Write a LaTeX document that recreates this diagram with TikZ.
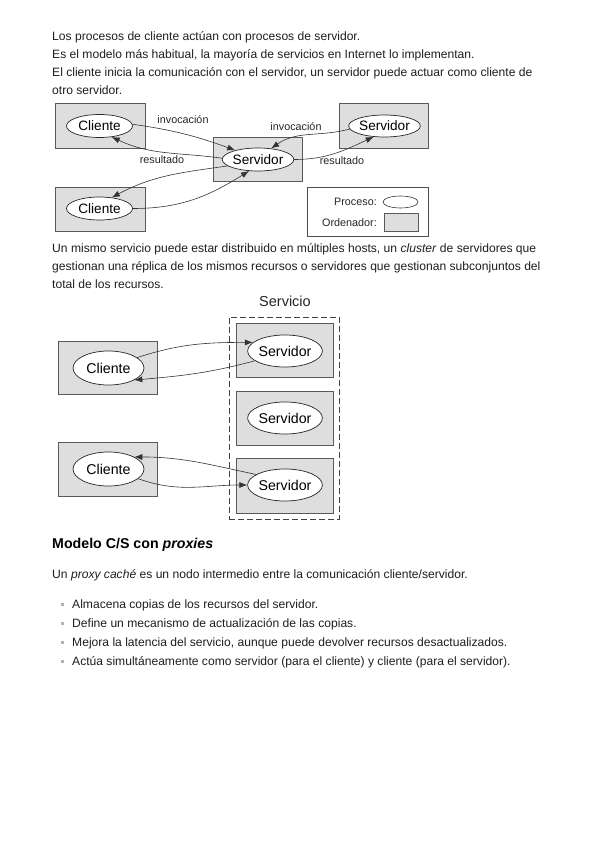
\documentclass[tikz,border=0pt]{standalone}
\usepackage{fontspec}
\setmainfont{Liberation Sans}
\usetikzlibrary{shapes.geometric,arrows.meta}
\begin{document}
\begin{tikzpicture}[x=1pt,y=-1pt,
  txt/.style={anchor=base west,inner sep=0pt,font=\fontsize{12.1}{14}\selectfont,text=black!88},
  pcbox/.style={draw=black!65,fill=black!13,line width=0.8pt,inner sep=0pt},
  proc/.style={ellipse,draw=black!85,fill=white,line width=0.7pt,inner sep=0pt,font=\fontsize{13.6}{15}\selectfont},
  procb/.style={proc,font=\fontsize{14.2}{16}\selectfont},
  lbl/.style={inner sep=0pt,font=\fontsize{10.8}{12}\selectfont,text=black!85},
  conn/.style={-{Latex[length=8pt,width=6pt]},line width=0.6pt,draw=black!80},
  bul/.style={fill=black!30,inner sep=0pt,minimum size=3pt,draw=none}
]
\useasboundingbox (0,0) rectangle (600,848);
\fill[white] (0,0) rectangle (600,848);

% paragraph 1
\node[txt] (t1) at (52,41) {Los procesos de cliente actúan con procesos de servidor.};
\node[txt] (t2) at (52,59) {Es el modelo más habitual, la mayoría de servicios en Internet lo implementan.};
\node[txt] (t3) at (52,77) {El cliente inicia la comunicación con el servidor, un servidor puede actuar como cliente de};
\node[txt] (t4) at (52,95) {otro servidor.};

% diagram 1
\node[pcbox,minimum width=90,minimum height=45] (c1box) at (100,125.5) {};
\node[proc,minimum width=66,minimum height=23] (c1) at (99.5,126) {Cliente};
\node[pcbox,minimum width=90,minimum height=44] (c2box) at (100,209) {};
\node[proc,minimum width=66,minimum height=23] (c2) at (99.5,208.5) {Cliente};
\node[pcbox,minimum width=89,minimum height=44] (sbox) at (257.5,159) {};
\node[proc,minimum width=64,minimum height=23] (s) at (258,159.5) {Servidor};
\node[pcbox,minimum width=89,minimum height=45] (s2box) at (383.5,125.5) {};
\node[proc,minimum width=66,minimum height=22] (s2) at (384.5,126) {Servidor};

\draw[conn] (c1.3) to[out=-8,in=160] (s.158);
\draw[conn] (s.178) to[out=172,in=-25] (c1.-42);
\draw[conn] (s.192) to[out=188,in=28] (c2.42);
\draw[conn] (c2.0) to[out=0,in=212] (s.232);
\draw[conn] (s2.185) to[out=195,in=35] (s.40);
\draw[conn] (s.0) to[out=0,in=205] (s2.225);

\node[lbl] (l1) at (183,120) {invocación};
\node[lbl] (l2) at (162,160) {resultado};
\node[lbl] (l3) at (296,127) {invocación};
\node[lbl] (l4) at (342,161) {resultado};

% legend
\node[draw=black!70,line width=0.7pt,minimum width=121,minimum height=49,inner sep=0pt] (leg) at (367.5,211.5) {};
\node[lbl,anchor=east] (lp) at (377,202) {Proceso:};
\node[ellipse,draw=black!80,line width=0.6pt,minimum width=35,minimum height=12,inner sep=0pt] (lpe) at (400.5,202) {};
\node[lbl,anchor=east] (lo) at (377,223) {Ordenador:};
\node[pcbox,line width=0.6pt,minimum width=34,minimum height=18] (lor) at (401,222) {};

% paragraph 2
\node[txt] (t5) at (52,252) {Un mismo servicio puede estar distribuido en múltiples hosts, un \textit{cluster} de servidores que};
\node[txt] (t6) at (52,270) {gestionan una réplica de los mismos recursos o servidores que gestionan subconjuntos del};
\node[txt] (t7) at (52,288) {total de los recursos.};

% diagram 2
\node[inner sep=0pt,font=\fontsize{14.5}{16}\selectfont,text=black!85] (serv) at (285,301) {Servicio};
\node[draw=black!75,dashed,dash pattern=on 6pt off 3pt,line width=0.8pt,minimum width=110,minimum height=202,inner sep=0pt] (dash) at (284,418) {};
\node[pcbox,minimum width=97,minimum height=54] (v1box) at (284.5,350) {};
\node[procb,minimum width=72,minimum height=32] (v1) at (285,351) {Servidor};
\node[pcbox,minimum width=97,minimum height=54] (v2box) at (284.5,418) {};
\node[procb,minimum width=72,minimum height=32] (v2) at (285,418) {Servidor};
\node[pcbox,minimum width=97,minimum height=55] (v3box) at (284.5,485.5) {};
\node[procb,minimum width=72,minimum height=32] (v3) at (285,485) {Servidor};

\node[pcbox,minimum width=99,minimum height=53] (k1box) at (107.5,367.5) {};
\node[procb,minimum width=71,minimum height=34] (k1) at (108.5,368) {Cliente};
\node[pcbox,minimum width=99,minimum height=54] (k2box) at (107.5,469) {};
\node[procb,minimum width=71,minimum height=34] (k2) at (108.5,469) {Cliente};

\draw[conn] (k1.20) to[out=18,in=180] (v1.165);
\draw[conn] (v1.198) to[out=195,in=5] (k1.-25);
\draw[conn] (v3.160) to[out=168,in=0] (k2.25);
\draw[conn] (k2.-18) to[out=-20,in=180] (v3.180);

% heading and list
\node[anchor=base west,inner sep=0pt,font=\fontsize{14.2}{16}\selectfont\bfseries] (h) at (52,548) {Modelo C/S con \textit{proxies}};
\node[txt] (t8) at (52,578) {Un \textit{proxy caché} es un nodo intermedio entre la comunicación cliente/servidor.};

\node[bul] (b1) at (62,604) {};
\node[txt] (t9) at (72,608) {Almacena copias de los recursos del servidor.};
\node[bul] (b2) at (62,623) {};
\node[txt] (t10) at (72,627) {Define un mecanismo de actualización de las copias.};
\node[bul] (b3) at (62,642) {};
\node[txt] (t11) at (72,646) {Mejora la latencia del servicio, aunque puede devolver recursos desactualizados.};
\node[bul] (b4) at (62,661) {};
\node[txt] (t12) at (72,665) {Actúa simultáneamente como servidor (para el cliente) y cliente (para el servidor).};
\end{tikzpicture}
\end{document}
